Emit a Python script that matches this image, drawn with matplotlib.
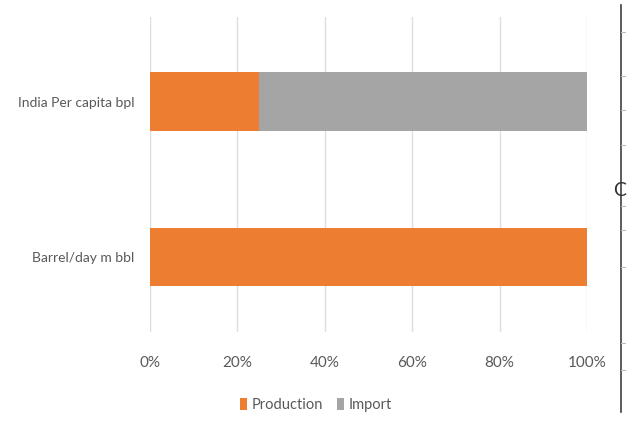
import matplotlib
matplotlib.use('Agg')
import matplotlib.pyplot as plt
from matplotlib.lines import Line2D
import numpy as np

# shares of each category (fraction of total)
categories = ['Barrel/day m bbl', 'India Per capita bpl']
production = [1.00, 0.25]
imports = [0.00, 0.75]
xticks = [0, 0.2, 0.4, 0.6, 0.8, 1.0]
xtick_labels = ['0%', '20%', '40%', '60%', '80%', '100%']

orange = '#ED7D31'
grey = '#A5A5A5'
text_c = '#595959'

plt.rcParams['font.family'] = ['Lato', 'DejaVu Sans']

fig = plt.figure(figsize=(6.3, 4.24), dpi=100)
fig.patch.set_facecolor('white')
ax = fig.add_axes([150 / 630, 1 - 332 / 424, 437 / 630, 315 / 424])

y = np.arange(len(categories))
h = 0.38
ax.barh(y, production, height=h, color=orange, label='Production', zorder=2)
ax.barh(y, imports, height=h, left=production, color=grey, label='Import', zorder=2)

ax.set_xlim(0, 1)
ax.set_ylim(-0.484, 1.548)
ax.set_xticks(xticks)
ax.set_xticklabels(xtick_labels)
ax.set_yticks(y)
ax.set_yticklabels(categories)
ax.tick_params(axis='x', length=0, pad=17, labelsize=11, labelcolor=text_c)
ax.tick_params(axis='y', length=0, pad=11, labelsize=10, labelcolor=text_c)
ax.xaxis.grid(True, color='#DDDDDD', linewidth=1, zorder=0)
ax.set_axisbelow(True)
for s in ax.spines.values():
    s.set_visible(False)

leg = fig.legend(loc='center', bbox_to_anchor=(316 / 630, 1 - 405 / 424), ncol=2,
                 frameon=False, fontsize=10.5, handlelength=0.45, handleheight=0.9,
                 handletextpad=0.3, columnspacing=1.0)
for t in leg.get_texts():
    t.set_color(text_c)

# neighbouring panel edge on the right
xr = 621 / 630
fig.add_artist(Line2D([xr, xr], [1 - 5 / 424, 1 - 412 / 424], color='#404040', linewidth=1.2))
for ty in [32, 76, 110, 145, 206, 230, 267, 343, 370]:
    fig.add_artist(Line2D([xr, xr + 4 / 630], [1 - ty / 424] * 2, color='#BBBBBB', linewidth=0.8))
fig.text(620 / 630, 1 - 190 / 424, 'C', ha='center', va='center', fontsize=14, color='#303030')

fig.savefig('out.png', dpi=100)
